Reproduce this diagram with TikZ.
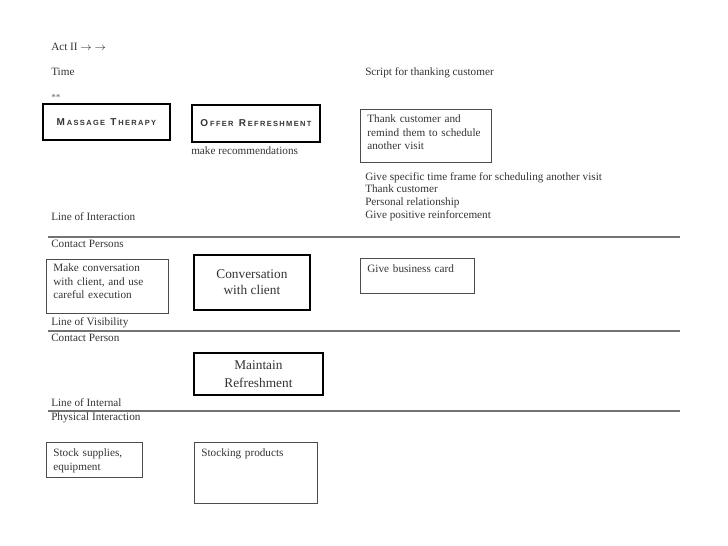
\documentclass[tikz,border=0pt]{standalone}
\usepackage{fontspec}
\setmainfont{Liberation Serif}
\newfontfamily\capsfont[LetterSpace=18]{Liberation Sans}
\newcommand{\capword}[2]{{\fontsize{7.5}{8}\selectfont #1}\,{\fontsize{5.6}{6}\selectfont #2}}

\begin{document}
\begin{tikzpicture}[
    x=0.75pt, y=-0.75pt,
    every node/.style={font=\fontsize{8.4}{10}\selectfont, text=black!80,
                       inner sep=0pt},
    lbl/.style={anchor=west, align=left},
    note/.style={draw=black!70, line width=0.6pt, anchor=north west,
                 align=left, inner xsep=5.25pt, inner ysep=0pt},
    heavy/.style={draw=black, line width=1.4pt, anchor=north west,
                  align=center},
    rule/.style={draw=black!55, line width=0.9pt},
]
\useasboundingbox (0,0) rectangle (728,546);

% ---------- Header ----------
\node[lbl] (act)    at (51,47) {Act II $\rightarrow$ $\rightarrow$};
\node[lbl] (time)   at (51,72) {Time};
\node[lbl, font=\fontsize{7}{7}\selectfont, text=black!60] (stars) at (51,97) {**};
\node[lbl] (script) at (365,73) {Script for thanking customer};

% ---------- Top row ----------
\node[heavy, minimum width=95.25pt, minimum height=27pt] (massage) at (42,103)
    {\capsfont\bfseries\capword{M}{ASSAGE} \capword{T}{HERAPY}};
\node[heavy, minimum width=96pt, minimum height=27.75pt] (offer) at (191,104)
    {\capsfont\bfseries\capword{O}{FFER} \capword{R}{EFRESHMENT}};
\node[lbl] (recommend) at (191,151) {make recommendations};

\node[note, text width=87.75pt, text height=10pt, text depth=29.75pt] (thank) at (360,109)
    {Thank customer and\\remind them to schedule\\another visit};

\node[lbl, anchor=north west, font=\fontsize{8.4}{9.6}\selectfont] (reasons) at (365,172)
    {Give specific time frame for scheduling another visit\\Thank customer\\
     Personal relationship\\Give positive reinforcement};

% ---------- Line of interaction ----------
\node[lbl] (interaction) at (51,217) {Line of Interaction};
\coordinate (int west) at (48,237);
\coordinate (int east) at (680,237);
\draw[rule] (int west) -- (int east);
\node[lbl] (contacts) at (51,244) {Contact Persons};

\node[note, text width=81pt, text height=9.2pt, text depth=31.3pt] (chat) at (46,259)
    {Make conversation\\with client, and use\\careful execution};
\node[heavy, minimum width=87pt, minimum height=41.25pt,
      font=\fontsize{10}{12}\selectfont] (conv) at (193,254)
    {Conversation\\with client};
\node[note, text width=75pt, text height=10.7pt, text depth=15.55pt] (card) at (360,258)
    {Give business card};

% ---------- Line of visibility ----------
\node[lbl] (visibility) at (51,323) {Line of Visibility};
\coordinate (vis west) at (48,331);
\coordinate (vis east) at (680,331);
\draw[rule] (vis west) -- (vis east);
\node[lbl] (contact) at (51,338) {Contact Person};

\node[heavy, minimum width=96.75pt, minimum height=31.5pt,
      font=\fontsize{10}{13.5}\selectfont] (maintain) at (193,352)
    {Maintain\\Refreshment};

% ---------- Line of internal interaction ----------
\node[lbl] (internal) at (51,403) {Line of Internal};
\coordinate (inn west) at (48,411);
\coordinate (inn east) at (680,411);
\draw[rule] (inn west) -- (inn east);
\node[lbl] (physical) at (51,418) {Physical Interaction};

\node[note, text width=61.5pt, text height=10.7pt, text depth=15.55pt] (stock) at (46,442)
    {Stock supplies,\\equipment};
\node[note, text width=81.75pt, text height=10.7pt, text depth=35.05pt] (stocking) at (194,442)
    {Stocking products};

\end{tikzpicture}
\end{document}
